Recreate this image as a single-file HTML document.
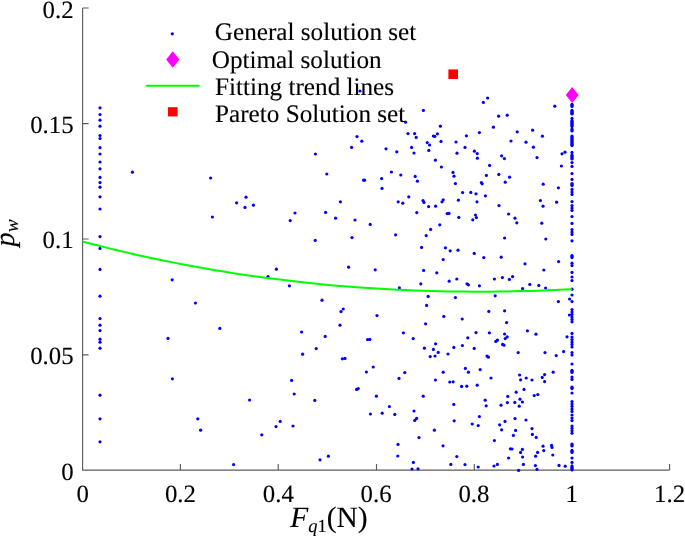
<!DOCTYPE html>
<html><head><meta charset="utf-8"><title>Scatter</title>
<style>
html,body{margin:0;padding:0;background:#fff;}
body{width:685px;height:536px;overflow:hidden;}
svg{display:block;}
text{font-family:"Liberation Serif","Times New Roman",serif;fill:#000;stroke:#000;stroke-width:0.12px;text-rendering:geometricPrecision;}
.i{font-style:italic;}
</style></head><body>
<svg width="685" height="536" viewBox="0 0 685 536">
<rect width="685" height="536" fill="#fff"/>
<g stroke="#5c5c5c" stroke-width="1.15" fill="none">
<path d="M82.6,8.0 V470.1 H669.6"/>
<path d="M180.4,470.1 v-6 M278.2,470.1 v-6 M376.5,470.1 v-6 M474.3,470.1 v-6 M572.0,470.1 v-6 M669.6,470.1 v-6 M82.6,354.9 h6 M82.6,239.0 h6 M82.6,123.6 h6 M82.6,8.0 h6"/>
</g>
<g font-size="24.8" text-anchor="middle">
<text x="82.6" y="502.4">0</text><text x="180.4" y="502.4">0.2</text><text x="278.3" y="502.4">0.4</text><text x="376.1" y="502.4">0.6</text><text x="473.9" y="502.4">0.8</text><text x="571.8" y="502.4">1</text><text x="669.6" y="502.4">1.2</text>
</g>
<g font-size="24.8" text-anchor="end">
<text x="73.6" y="479.9">0</text><text x="73.6" y="364.1">0.05</text><text x="73.6" y="248.2">0.1</text><text x="73.6" y="132.6">0.15</text><text x="73.6" y="17.5">0.2</text>
</g>
<text x="290.2" y="527.3" font-size="29.5"><tspan class="i">F</tspan><tspan font-size="18.5" dy="4.4"><tspan class="i">q</tspan>1</tspan><tspan dy="-4.4">(N)</tspan></text>
<text transform="translate(13.9,246.5) rotate(-90)" font-size="28.3"><tspan class="i">p</tspan><tspan class="i" font-size="19.5" dy="3.7">w</tspan></text>
<g fill="#00f">
<circle cx="132.4" cy="172.2" r="1.6"/><circle cx="210.6" cy="178.0" r="1.6"/><circle cx="212.4" cy="217.0" r="1.6"/><circle cx="172.2" cy="279.8" r="1.6"/><circle cx="195.4" cy="303.0" r="1.6"/><circle cx="168.0" cy="338.4" r="1.6"/>
<circle cx="172.4" cy="378.8" r="1.6"/><circle cx="197.8" cy="418.8" r="1.6"/><circle cx="200.6" cy="430.2" r="1.6"/><circle cx="351.6" cy="147.4" r="1.6"/><circle cx="315.4" cy="154.0" r="1.6"/><circle cx="326.8" cy="174.0" r="1.6"/>
<circle cx="246.0" cy="197.2" r="1.6"/><circle cx="236.6" cy="202.8" r="1.6"/><circle cx="245.0" cy="207.4" r="1.6"/><circle cx="253.4" cy="205.2" r="1.6"/><circle cx="340.4" cy="201.8" r="1.6"/><circle cx="295.0" cy="213.0" r="1.6"/>
<circle cx="325.6" cy="212.4" r="1.6"/><circle cx="335.6" cy="218.2" r="1.6"/><circle cx="290.2" cy="220.6" r="1.6"/><circle cx="355.0" cy="220.0" r="1.6"/><circle cx="315.2" cy="240.4" r="1.6"/><circle cx="352.0" cy="237.6" r="1.6"/>
<circle cx="348.6" cy="267.2" r="1.6"/><circle cx="276.4" cy="269.2" r="1.6"/><circle cx="268.0" cy="276.6" r="1.6"/><circle cx="289.4" cy="285.8" r="1.6"/><circle cx="322.0" cy="300.2" r="1.6"/><circle cx="343.2" cy="309.0" r="1.6"/>
<circle cx="341.0" cy="311.6" r="1.6"/><circle cx="219.8" cy="328.4" r="1.6"/><circle cx="301.6" cy="332.0" r="1.6"/><circle cx="340.0" cy="325.2" r="1.6"/><circle cx="325.2" cy="336.4" r="1.6"/><circle cx="316.2" cy="348.6" r="1.6"/>
<circle cx="302.6" cy="354.2" r="1.6"/><circle cx="342.4" cy="358.8" r="1.6"/><circle cx="345.0" cy="358.4" r="1.6"/><circle cx="291.6" cy="380.4" r="1.6"/><circle cx="294.2" cy="394.0" r="1.6"/><circle cx="249.6" cy="400.0" r="1.6"/>
<circle cx="314.8" cy="400.4" r="1.6"/><circle cx="280.2" cy="421.4" r="1.6"/><circle cx="276.0" cy="426.6" r="1.6"/><circle cx="293.0" cy="426.0" r="1.6"/><circle cx="261.8" cy="434.8" r="1.6"/><circle cx="233.6" cy="464.6" r="1.6"/>
<circle cx="320.0" cy="459.8" r="1.6"/><circle cx="328.4" cy="456.2" r="1.6"/><circle cx="360.0" cy="91.0" r="1.6"/><circle cx="487.6" cy="98.0" r="1.6"/><circle cx="483.4" cy="102.4" r="1.6"/><circle cx="423.4" cy="110.4" r="1.6"/>
<circle cx="405.6" cy="122.2" r="1.6"/><circle cx="440.4" cy="126.2" r="1.6"/><circle cx="408.0" cy="133.6" r="1.6"/><circle cx="414.6" cy="133.6" r="1.6"/><circle cx="416.2" cy="137.4" r="1.6"/><circle cx="357.0" cy="136.6" r="1.6"/>
<circle cx="361.8" cy="141.2" r="1.6"/><circle cx="433.4" cy="136.0" r="1.6"/><circle cx="434.8" cy="136.4" r="1.6"/><circle cx="437.4" cy="133.8" r="1.6"/><circle cx="441.0" cy="141.4" r="1.6"/><circle cx="427.2" cy="142.6" r="1.6"/>
<circle cx="429.6" cy="145.0" r="1.6"/><circle cx="428.8" cy="150.4" r="1.6"/><circle cx="411.6" cy="147.4" r="1.6"/><circle cx="414.0" cy="153.0" r="1.6"/><circle cx="386.0" cy="148.8" r="1.6"/><circle cx="396.8" cy="151.8" r="1.6"/>
<circle cx="456.0" cy="142.0" r="1.6"/><circle cx="466.4" cy="135.8" r="1.6"/><circle cx="479.4" cy="132.6" r="1.6"/><circle cx="465.0" cy="147.4" r="1.6"/><circle cx="457.0" cy="153.2" r="1.6"/><circle cx="474.4" cy="151.2" r="1.6"/>
<circle cx="477.2" cy="153.6" r="1.6"/><circle cx="477.4" cy="158.2" r="1.6"/><circle cx="435.4" cy="160.2" r="1.6"/><circle cx="441.4" cy="167.0" r="1.6"/><circle cx="489.6" cy="165.4" r="1.6"/><circle cx="391.4" cy="172.0" r="1.6"/>
<circle cx="400.8" cy="175.0" r="1.6"/><circle cx="415.2" cy="176.4" r="1.6"/><circle cx="417.4" cy="181.2" r="1.6"/><circle cx="363.6" cy="180.2" r="1.6"/><circle cx="364.6" cy="180.2" r="1.6"/><circle cx="381.6" cy="178.6" r="1.6"/>
<circle cx="382.0" cy="188.4" r="1.6"/><circle cx="453.0" cy="172.4" r="1.6"/><circle cx="454.0" cy="176.2" r="1.6"/><circle cx="455.4" cy="183.6" r="1.6"/><circle cx="486.4" cy="175.4" r="1.6"/><circle cx="481.4" cy="182.6" r="1.6"/>
<circle cx="482.2" cy="183.8" r="1.6"/><circle cx="462.6" cy="192.6" r="1.6"/><circle cx="470.8" cy="192.4" r="1.6"/><circle cx="476.0" cy="193.8" r="1.6"/><circle cx="485.4" cy="195.8" r="1.6"/><circle cx="408.8" cy="196.8" r="1.6"/>
<circle cx="398.2" cy="201.8" r="1.6"/><circle cx="402.8" cy="203.2" r="1.6"/><circle cx="423.0" cy="200.6" r="1.6"/><circle cx="424.0" cy="202.4" r="1.6"/><circle cx="428.6" cy="206.6" r="1.6"/><circle cx="435.6" cy="206.2" r="1.6"/>
<circle cx="443.2" cy="199.8" r="1.6"/><circle cx="442.0" cy="201.8" r="1.6"/><circle cx="458.4" cy="200.2" r="1.6"/><circle cx="477.0" cy="201.8" r="1.6"/><circle cx="416.8" cy="212.6" r="1.6"/><circle cx="447.2" cy="213.6" r="1.6"/>
<circle cx="449.0" cy="213.4" r="1.6"/><circle cx="458.8" cy="217.4" r="1.6"/><circle cx="475.4" cy="215.0" r="1.6"/><circle cx="476.4" cy="217.6" r="1.6"/><circle cx="472.8" cy="219.8" r="1.6"/><circle cx="370.2" cy="224.4" r="1.6"/>
<circle cx="439.8" cy="224.8" r="1.6"/><circle cx="430.6" cy="229.4" r="1.6"/><circle cx="426.2" cy="235.6" r="1.6"/><circle cx="395.6" cy="234.8" r="1.6"/><circle cx="421.6" cy="247.4" r="1.6"/><circle cx="445.4" cy="247.8" r="1.6"/>
<circle cx="450.2" cy="250.8" r="1.6"/><circle cx="458.0" cy="250.2" r="1.6"/><circle cx="474.2" cy="253.4" r="1.6"/><circle cx="483.8" cy="257.6" r="1.6"/><circle cx="443.2" cy="259.6" r="1.6"/><circle cx="375.2" cy="269.8" r="1.6"/>
<circle cx="423.6" cy="270.4" r="1.6"/><circle cx="436.8" cy="272.8" r="1.6"/><circle cx="449.2" cy="281.2" r="1.6"/><circle cx="456.8" cy="279.0" r="1.6"/><circle cx="467.0" cy="283.8" r="1.6"/><circle cx="468.4" cy="284.8" r="1.6"/>
<circle cx="479.4" cy="285.8" r="1.6"/><circle cx="420.8" cy="283.8" r="1.6"/><circle cx="399.4" cy="287.8" r="1.6"/><circle cx="428.2" cy="296.4" r="1.6"/><circle cx="455.4" cy="297.6" r="1.6"/><circle cx="426.6" cy="305.4" r="1.6"/>
<circle cx="488.8" cy="311.4" r="1.6"/><circle cx="377.0" cy="315.6" r="1.6"/><circle cx="443.8" cy="316.4" r="1.6"/><circle cx="462.2" cy="319.0" r="1.6"/><circle cx="425.6" cy="323.8" r="1.6"/><circle cx="403.4" cy="332.8" r="1.6"/>
<circle cx="476.0" cy="332.6" r="1.6"/><circle cx="489.4" cy="332.8" r="1.6"/><circle cx="467.8" cy="337.8" r="1.6"/><circle cx="367.6" cy="339.6" r="1.6"/><circle cx="369.8" cy="339.4" r="1.6"/><circle cx="413.2" cy="338.6" r="1.6"/>
<circle cx="435.6" cy="343.8" r="1.6"/><circle cx="424.4" cy="348.2" r="1.6"/><circle cx="433.4" cy="349.4" r="1.6"/><circle cx="438.2" cy="352.4" r="1.6"/><circle cx="453.8" cy="347.4" r="1.6"/><circle cx="462.4" cy="345.6" r="1.6"/>
<circle cx="474.2" cy="348.4" r="1.6"/><circle cx="448.0" cy="354.0" r="1.6"/><circle cx="430.2" cy="356.6" r="1.6"/><circle cx="435.0" cy="356.0" r="1.6"/><circle cx="487.0" cy="356.0" r="1.6"/><circle cx="488.4" cy="357.2" r="1.6"/>
<circle cx="373.2" cy="367.0" r="1.6"/><circle cx="366.4" cy="372.0" r="1.6"/><circle cx="404.8" cy="372.6" r="1.6"/><circle cx="399.0" cy="378.4" r="1.6"/><circle cx="443.2" cy="372.2" r="1.6"/><circle cx="465.4" cy="368.4" r="1.6"/>
<circle cx="468.4" cy="372.2" r="1.6"/><circle cx="480.2" cy="369.6" r="1.6"/><circle cx="491.0" cy="378.0" r="1.6"/><circle cx="435.4" cy="380.0" r="1.6"/><circle cx="449.8" cy="382.0" r="1.6"/><circle cx="453.2" cy="381.8" r="1.6"/>
<circle cx="461.6" cy="386.4" r="1.6"/><circle cx="466.8" cy="386.2" r="1.6"/><circle cx="477.2" cy="385.2" r="1.6"/><circle cx="356.6" cy="389.4" r="1.6"/><circle cx="358.2" cy="388.6" r="1.6"/><circle cx="376.4" cy="396.2" r="1.6"/>
<circle cx="423.2" cy="396.2" r="1.6"/><circle cx="485.2" cy="400.2" r="1.6"/><circle cx="486.2" cy="405.8" r="1.6"/><circle cx="453.8" cy="404.4" r="1.6"/><circle cx="389.4" cy="406.6" r="1.6"/><circle cx="414.0" cy="411.0" r="1.6"/>
<circle cx="370.4" cy="414.0" r="1.6"/><circle cx="382.2" cy="413.2" r="1.6"/><circle cx="394.8" cy="414.4" r="1.6"/><circle cx="416.6" cy="418.4" r="1.6"/><circle cx="414.8" cy="420.4" r="1.6"/><circle cx="479.4" cy="416.6" r="1.6"/>
<circle cx="454.2" cy="420.8" r="1.6"/><circle cx="472.2" cy="424.0" r="1.6"/><circle cx="478.2" cy="425.6" r="1.6"/><circle cx="434.4" cy="430.2" r="1.6"/><circle cx="419.0" cy="437.6" r="1.6"/><circle cx="398.0" cy="444.4" r="1.6"/>
<circle cx="443.0" cy="445.8" r="1.6"/><circle cx="397.8" cy="456.0" r="1.6"/><circle cx="456.8" cy="456.6" r="1.6"/><circle cx="413.4" cy="462.4" r="1.6"/><circle cx="450.8" cy="464.4" r="1.6"/><circle cx="465.0" cy="464.6" r="1.6"/>
<circle cx="478.2" cy="467.0" r="1.6"/><circle cx="412.0" cy="469.0" r="1.6"/><circle cx="418.0" cy="468.8" r="1.6"/><circle cx="554.8" cy="106.2" r="1.6"/><circle cx="498.6" cy="116.2" r="1.6"/><circle cx="507.2" cy="115.2" r="1.6"/>
<circle cx="493.4" cy="127.2" r="1.6"/><circle cx="517.2" cy="131.8" r="1.6"/><circle cx="532.6" cy="130.2" r="1.6"/><circle cx="542.4" cy="136.2" r="1.6"/><circle cx="511.0" cy="141.0" r="1.6"/><circle cx="526.0" cy="142.2" r="1.6"/>
<circle cx="533.4" cy="147.2" r="1.6"/><circle cx="501.6" cy="155.8" r="1.6"/><circle cx="504.4" cy="158.6" r="1.6"/><circle cx="537.0" cy="157.6" r="1.6"/><circle cx="562.0" cy="153.8" r="1.6"/><circle cx="565.0" cy="152.2" r="1.6"/>
<circle cx="561.4" cy="166.0" r="1.6"/><circle cx="498.8" cy="174.4" r="1.6"/><circle cx="509.6" cy="177.2" r="1.6"/><circle cx="505.2" cy="182.2" r="1.6"/><circle cx="543.2" cy="184.2" r="1.6"/><circle cx="558.4" cy="187.8" r="1.6"/>
<circle cx="540.4" cy="200.6" r="1.6"/><circle cx="543.0" cy="206.2" r="1.6"/><circle cx="556.6" cy="202.2" r="1.6"/><circle cx="499.0" cy="205.6" r="1.6"/><circle cx="508.6" cy="214.0" r="1.6"/><circle cx="515.0" cy="218.2" r="1.6"/>
<circle cx="516.8" cy="222.8" r="1.6"/><circle cx="541.8" cy="223.2" r="1.6"/><circle cx="504.6" cy="238.0" r="1.6"/><circle cx="545.8" cy="239.0" r="1.6"/><circle cx="501.2" cy="257.2" r="1.6"/><circle cx="525.0" cy="263.8" r="1.6"/>
<circle cx="558.6" cy="261.6" r="1.6"/><circle cx="543.8" cy="270.0" r="1.6"/><circle cx="494.4" cy="279.0" r="1.6"/><circle cx="502.4" cy="277.6" r="1.6"/><circle cx="509.4" cy="279.4" r="1.6"/><circle cx="512.6" cy="276.6" r="1.6"/>
<circle cx="529.8" cy="284.4" r="1.6"/><circle cx="538.8" cy="285.4" r="1.6"/><circle cx="522.6" cy="288.6" r="1.6"/><circle cx="545.6" cy="288.0" r="1.6"/><circle cx="495.2" cy="295.8" r="1.6"/><circle cx="558.4" cy="301.6" r="1.6"/>
<circle cx="569.6" cy="299.0" r="1.6"/><circle cx="504.6" cy="310.8" r="1.6"/><circle cx="569.4" cy="315.0" r="1.6"/><circle cx="506.6" cy="322.6" r="1.6"/><circle cx="527.4" cy="330.8" r="1.6"/><circle cx="536.0" cy="334.2" r="1.6"/>
<circle cx="504.6" cy="334.0" r="1.6"/><circle cx="507.2" cy="336.8" r="1.6"/><circle cx="505.2" cy="338.6" r="1.6"/><circle cx="497.4" cy="340.2" r="1.6"/><circle cx="495.8" cy="341.4" r="1.6"/><circle cx="502.6" cy="344.4" r="1.6"/>
<circle cx="504.0" cy="345.2" r="1.6"/><circle cx="567.0" cy="336.8" r="1.6"/><circle cx="518.2" cy="352.6" r="1.6"/><circle cx="545.0" cy="352.6" r="1.6"/><circle cx="556.2" cy="355.6" r="1.6"/><circle cx="563.6" cy="351.6" r="1.6"/>
<circle cx="519.6" cy="375.0" r="1.6"/><circle cx="520.6" cy="379.8" r="1.6"/><circle cx="526.2" cy="378.0" r="1.6"/><circle cx="532.0" cy="380.0" r="1.6"/><circle cx="542.2" cy="377.4" r="1.6"/><circle cx="544.6" cy="374.6" r="1.6"/>
<circle cx="544.6" cy="381.6" r="1.6"/><circle cx="553.2" cy="372.2" r="1.6"/><circle cx="524.0" cy="389.4" r="1.6"/><circle cx="516.2" cy="392.2" r="1.6"/><circle cx="507.8" cy="396.4" r="1.6"/><circle cx="534.2" cy="395.6" r="1.6"/>
<circle cx="537.8" cy="394.6" r="1.6"/><circle cx="520.0" cy="399.2" r="1.6"/><circle cx="522.4" cy="402.0" r="1.6"/><circle cx="507.4" cy="402.6" r="1.6"/><circle cx="514.8" cy="402.4" r="1.6"/><circle cx="501.0" cy="405.2" r="1.6"/>
<circle cx="519.2" cy="406.2" r="1.6"/><circle cx="515.0" cy="418.6" r="1.6"/><circle cx="526.0" cy="420.0" r="1.6"/><circle cx="505.0" cy="421.4" r="1.6"/><circle cx="499.6" cy="424.8" r="1.6"/><circle cx="501.6" cy="429.8" r="1.6"/>
<circle cx="515.6" cy="430.4" r="1.6"/><circle cx="532.0" cy="428.6" r="1.6"/><circle cx="513.4" cy="435.4" r="1.6"/><circle cx="532.4" cy="434.4" r="1.6"/><circle cx="536.2" cy="437.4" r="1.6"/><circle cx="494.4" cy="440.6" r="1.6"/>
<circle cx="543.0" cy="446.2" r="1.6"/><circle cx="551.6" cy="445.4" r="1.6"/><circle cx="552.0" cy="447.4" r="1.6"/><circle cx="510.4" cy="448.8" r="1.6"/><circle cx="512.0" cy="449.0" r="1.6"/><circle cx="522.4" cy="449.4" r="1.6"/>
<circle cx="520.6" cy="452.4" r="1.6"/><circle cx="543.8" cy="450.6" r="1.6"/><circle cx="537.6" cy="452.4" r="1.6"/><circle cx="535.6" cy="456.2" r="1.6"/><circle cx="522.6" cy="457.0" r="1.6"/><circle cx="552.8" cy="455.0" r="1.6"/>
<circle cx="508.6" cy="458.0" r="1.6"/><circle cx="497.4" cy="464.4" r="1.6"/><circle cx="494.0" cy="466.0" r="1.6"/><circle cx="523.4" cy="464.4" r="1.6"/><circle cx="535.4" cy="465.6" r="1.6"/><circle cx="559.0" cy="465.4" r="1.6"/>
<circle cx="565.2" cy="466.2" r="1.6"/><circle cx="518.6" cy="470.4" r="1.6"/><circle cx="537.0" cy="469.4" r="1.6"/><circle cx="100.0" cy="107.8" r="1.6"/><circle cx="100.0" cy="114.5" r="1.6"/><circle cx="100.0" cy="120.2" r="1.6"/>
<circle cx="100.0" cy="126.2" r="1.6"/><circle cx="100.0" cy="135.5" r="1.6"/><circle cx="100.0" cy="138.5" r="1.6"/><circle cx="100.0" cy="147.7" r="1.6"/><circle cx="100.0" cy="154.0" r="1.6"/><circle cx="100.0" cy="162.0" r="1.6"/>
<circle cx="100.0" cy="168.8" r="1.6"/><circle cx="100.0" cy="177.4" r="1.6"/><circle cx="100.0" cy="182.6" r="1.6"/><circle cx="100.0" cy="187.2" r="1.6"/><circle cx="100.0" cy="196.8" r="1.6"/><circle cx="100.0" cy="209.0" r="1.6"/>
<circle cx="100.0" cy="236.6" r="1.6"/><circle cx="100.0" cy="248.4" r="1.6"/><circle cx="100.0" cy="269.4" r="1.6"/><circle cx="100.0" cy="296.2" r="1.6"/><circle cx="100.0" cy="318.6" r="1.6"/><circle cx="100.0" cy="325.2" r="1.6"/>
<circle cx="100.0" cy="330.6" r="1.6"/><circle cx="100.0" cy="339.2" r="1.6"/><circle cx="100.0" cy="342.2" r="1.6"/><circle cx="100.0" cy="348.2" r="1.6"/><circle cx="100.0" cy="395.2" r="1.6"/><circle cx="100.0" cy="418.8" r="1.6"/>
<circle cx="100.0" cy="441.8" r="1.6"/><circle cx="572.0" cy="104.4" r="1.6"/><circle cx="572.0" cy="106.4" r="1.6"/><circle cx="572.0" cy="110.4" r="1.6"/><circle cx="572.0" cy="112.4" r="1.6"/><circle cx="572.0" cy="114.0" r="1.6"/>
<circle cx="572.0" cy="118.4" r="1.6"/><circle cx="572.0" cy="120.6" r="1.6"/><circle cx="572.0" cy="122.6" r="1.6"/><circle cx="572.0" cy="124.6" r="1.6"/><circle cx="572.0" cy="126.6" r="1.6"/><circle cx="572.0" cy="129.0" r="1.6"/>
<circle cx="572.0" cy="131.0" r="1.6"/><circle cx="572.0" cy="136.0" r="1.6"/><circle cx="572.0" cy="138.0" r="1.6"/><circle cx="572.0" cy="140.0" r="1.6"/><circle cx="572.0" cy="142.0" r="1.6"/><circle cx="572.0" cy="144.0" r="1.6"/>
<circle cx="572.0" cy="145.6" r="1.6"/><circle cx="572.0" cy="152.4" r="1.6"/><circle cx="572.0" cy="155.0" r="1.6"/><circle cx="572.0" cy="157.0" r="1.6"/><circle cx="572.0" cy="159.0" r="1.6"/><circle cx="572.0" cy="162.6" r="1.6"/>
<circle cx="572.0" cy="166.4" r="1.6"/><circle cx="572.0" cy="173.6" r="1.6"/><circle cx="572.0" cy="179.4" r="1.6"/><circle cx="572.0" cy="183.6" r="1.6"/><circle cx="572.0" cy="185.6" r="1.6"/><circle cx="572.0" cy="189.4" r="1.6"/>
<circle cx="572.0" cy="192.0" r="1.6"/><circle cx="572.0" cy="194.4" r="1.6"/><circle cx="572.0" cy="201.6" r="1.6"/><circle cx="572.0" cy="205.6" r="1.6"/><circle cx="572.0" cy="208.0" r="1.6"/><circle cx="572.0" cy="210.4" r="1.6"/>
<circle cx="572.0" cy="216.6" r="1.6"/><circle cx="572.0" cy="223.4" r="1.6"/><circle cx="572.0" cy="229.6" r="1.6"/><circle cx="572.0" cy="232.0" r="1.6"/><circle cx="572.0" cy="234.4" r="1.6"/><circle cx="572.0" cy="240.8" r="1.6"/>
<circle cx="572.0" cy="255.6" r="1.6"/><circle cx="572.0" cy="257.6" r="1.6"/><circle cx="572.0" cy="263.2" r="1.6"/><circle cx="572.0" cy="265.6" r="1.6"/><circle cx="572.0" cy="272.4" r="1.6"/><circle cx="572.0" cy="277.0" r="1.6"/>
<circle cx="572.0" cy="280.6" r="1.6"/><circle cx="572.0" cy="289.2" r="1.6"/><circle cx="572.0" cy="295.0" r="1.6"/><circle cx="572.0" cy="301.6" r="1.6"/><circle cx="572.0" cy="309.6" r="1.6"/><circle cx="572.0" cy="312.0" r="1.6"/>
<circle cx="572.0" cy="314.4" r="1.6"/><circle cx="572.0" cy="317.0" r="1.6"/><circle cx="572.0" cy="319.4" r="1.6"/><circle cx="572.0" cy="321.8" r="1.6"/><circle cx="572.0" cy="333.4" r="1.6"/><circle cx="572.0" cy="337.0" r="1.6"/>
<circle cx="572.0" cy="339.6" r="1.6"/><circle cx="572.0" cy="342.0" r="1.6"/><circle cx="572.0" cy="344.4" r="1.6"/><circle cx="572.0" cy="347.0" r="1.6"/><circle cx="572.0" cy="352.6" r="1.6"/><circle cx="572.0" cy="355.0" r="1.6"/>
<circle cx="572.0" cy="364.0" r="1.6"/><circle cx="572.0" cy="370.4" r="1.6"/><circle cx="572.0" cy="372.4" r="1.6"/><circle cx="572.0" cy="377.0" r="1.6"/><circle cx="572.0" cy="379.4" r="1.6"/><circle cx="572.0" cy="387.0" r="1.6"/>
<circle cx="572.0" cy="388.6" r="1.6"/><circle cx="572.0" cy="393.0" r="1.6"/><circle cx="572.0" cy="401.6" r="1.6"/><circle cx="572.0" cy="404.0" r="1.6"/><circle cx="572.0" cy="406.4" r="1.6"/><circle cx="572.0" cy="409.0" r="1.6"/>
<circle cx="572.0" cy="411.4" r="1.6"/><circle cx="572.0" cy="415.0" r="1.6"/><circle cx="572.0" cy="418.0" r="1.6"/><circle cx="572.0" cy="420.6" r="1.6"/><circle cx="572.0" cy="426.0" r="1.6"/><circle cx="572.0" cy="428.4" r="1.6"/>
<circle cx="572.0" cy="430.8" r="1.6"/><circle cx="572.0" cy="433.2" r="1.6"/><circle cx="572.0" cy="444.0" r="1.6"/><circle cx="572.0" cy="446.0" r="1.6"/><circle cx="572.0" cy="450.4" r="1.6"/><circle cx="572.0" cy="452.4" r="1.6"/>
<circle cx="572.0" cy="458.0" r="1.6"/><circle cx="572.0" cy="462.4" r="1.6"/><circle cx="572.0" cy="466.0" r="1.6"/><circle cx="572.0" cy="468.0" r="1.6"/><circle cx="572.0" cy="470.0" r="1.6"/><circle cx="572.0" cy="105.4" r="1.6"/>
<circle cx="572.0" cy="111.4" r="1.6"/><circle cx="572.0" cy="113.2" r="1.6"/><circle cx="572.0" cy="121.6" r="1.6"/><circle cx="572.0" cy="123.6" r="1.6"/><circle cx="572.0" cy="125.6" r="1.6"/><circle cx="572.0" cy="130.0" r="1.6"/>
<circle cx="572.0" cy="137.0" r="1.6"/><circle cx="572.0" cy="139.0" r="1.6"/><circle cx="572.0" cy="141.0" r="1.6"/><circle cx="572.0" cy="143.0" r="1.6"/><circle cx="572.0" cy="144.8" r="1.6"/><circle cx="572.0" cy="156.0" r="1.6"/>
<circle cx="572.0" cy="158.0" r="1.6"/><circle cx="572.0" cy="184.6" r="1.6"/><circle cx="572.0" cy="256.6" r="1.6"/><circle cx="572.0" cy="371.4" r="1.6"/><circle cx="572.0" cy="387.8" r="1.6"/><circle cx="572.0" cy="445.0" r="1.6"/>
<circle cx="572.0" cy="451.4" r="1.6"/><circle cx="572.0" cy="467.0" r="1.6"/><circle cx="572.0" cy="469.0" r="1.6"/>
</g>
<path d="M82.4,241.53 L90.7,243.70 L99.0,245.82 L107.3,247.89 L115.6,249.91 L123.9,251.87 L132.2,253.79 L140.5,255.65 L148.8,257.47 L157.1,259.23 L165.4,260.95 L173.7,262.61 L182.0,264.23 L190.3,265.79 L198.6,267.31 L206.9,268.78 L215.2,270.20 L223.5,271.57 L231.8,272.89 L240.1,274.17 L248.4,275.40 L256.7,276.58 L265.0,277.72 L273.3,278.81 L281.6,279.85 L289.9,280.85 L298.2,281.80 L306.5,282.70 L314.8,283.57 L323.1,284.38 L331.3,285.15 L339.6,285.88 L347.9,286.56 L356.2,287.20 L364.5,287.79 L372.8,288.34 L381.1,288.85 L389.4,289.31 L397.7,289.74 L406.0,290.12 L414.3,290.45 L422.6,290.75 L430.9,291.00 L439.2,291.21 L447.5,291.39 L455.8,291.52 L464.1,291.61 L472.4,291.66 L480.7,291.66 L489.0,291.63 L497.3,291.56 L505.6,291.45 L513.9,291.31 L522.2,291.12 L530.5,290.89 L538.8,290.63 L547.1,290.32 L555.4,289.98 L563.7,289.61 L572.0,289.19" fill="none" stroke="#0f0" stroke-width="2.0" stroke-linecap="butt"/>
<rect x="448.4" y="69.4" width="9.6" height="9.6" fill="#f00"/>
<path d="M572.2,87 L578.6,95 L572.2,103 L565.8,95 Z" fill="#f0f"/>
<circle cx="172.3" cy="33.8" r="1.6" fill="#00f"/>
<path d="M172.8,51.2 L179.4,59.5 L172.8,67.8 L166.2,59.5 Z" fill="#f0f"/>
<path d="M145.8,85.7 H199.6" stroke="#0f0" stroke-width="2.0" fill="none"/>
<rect x="168" y="107.2" width="9.6" height="9.2" fill="#f00"/>
<g font-size="25.2">
<text x="214.8" y="39.9">General solution set</text>
<text x="211.7" y="67.7">Optimal solution</text>
<text x="215.0" y="95.3">Fitting trend lines</text>
<text x="215.0" y="121.7">Pareto Solution set</text>
</g>
</svg>
</body></html>
